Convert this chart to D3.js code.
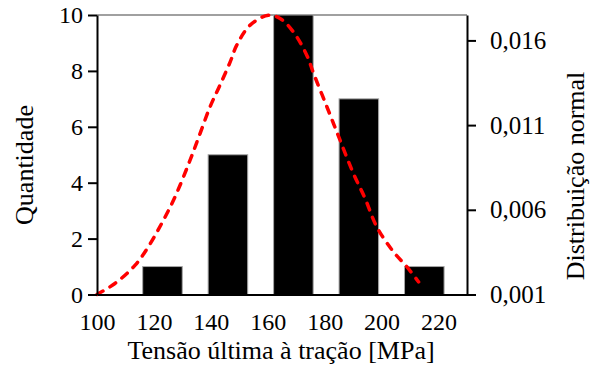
<!DOCTYPE html>
<html>
<head>
<meta charset="utf-8">
<script src="https://cdn.jsdelivr.net/npm/d3@7"></script>
<style>
  body { margin: 0; background: #fff; }
</style>
</head>
<body>
<div id="chart"></div>
<script>
// histogram bins (MPa, bin centre) and counts
const binCentres = [123, 146, 169, 192, 215];
const counts = [1, 5, 10, 7, 1];

// normal distribution curve
const curveX = [100, 106.3, 113.4, 118.0, 122.7, 127.4, 132.7, 136.2, 139.7, 143.2, 146.8, 149.1, 153.8,
  160.2, 164.3, 169.0, 173.7, 176.1, 180.8, 185.4, 190.1, 194.2, 198.3, 204.2, 208.9, 213.0];
const curveY = [0.00100, 0.00165, 0.00273, 0.00381, 0.00519, 0.00676, 0.00893, 0.01050, 0.01207, 0.01336,
  0.01473, 0.01572, 0.01690, 0.01749, 0.01730, 0.01650, 0.01513, 0.01405, 0.01207, 0.01011, 0.00814,
  0.00667, 0.00499, 0.00351, 0.00263, 0.00174];

const xTicks = [100, 120, 140, 160, 180, 200, 220];
const leftTicks = [0, 2, 4, 6, 8, 10];
const rightTicks = [0.001, 0.006, 0.011, 0.016];

const W = 600, H = 367;
const margin = {top: 15, right: 133, bottom: 72.5, left: 97};
const width = W - margin.left - margin.right;
const height = H - margin.top - margin.bottom;
const serif = "'Liberation Serif', 'Times New Roman', serif";

const svg = d3.select('#chart')
    .append('svg')
    .attr('width', W)
    .attr('height', H)
    .style('font-family', serif);

const g = svg.append('g')
    .attr('transform', 'translate(' + margin.left + ',' + margin.top + ')');

const xScale = d3.scaleLinear().domain([100, 230]).range([0, width]);
const yLeft = d3.scaleLinear().domain([0, 10]).range([height, 0]);
const yRight = d3.scaleLinear().domain([0.001, 0.0175]).range([height, 0]);

const barW = xScale(113.9) - xScale(100);

// plot area top border
g.append('line')
    .attr('x1', 0).attr('x2', width)
    .attr('y1', 0).attr('y2', 0)
    .attr('stroke', '#808080')
    .attr('stroke-width', 1.5);

// bars
g.selectAll('.bar')
    .data(counts)
    .enter()
    .append('rect')
    .attr('class', 'bar')
    .attr('x', (d, i) => xScale(binCentres[i]) - barW / 2)
    .attr('y', d => yLeft(d))
    .attr('width', barW)
    .attr('height', d => height - yLeft(d))
    .attr('fill', '#000')
    .attr('stroke', '#a6a6a6')
    .attr('stroke-width', 1);

// dashed normal curve
const pts = curveX.map((x, i) => [x, curveY[i]]);
g.append('path')
    .datum(pts)
    .attr('fill', 'none')
    .attr('stroke', '#ff0000')
    .attr('stroke-width', 3.5)
    .attr('stroke-linecap', 'round')
    .attr('stroke-dasharray', '7,8')
    .attr('d', d3.line()
        .x(d => xScale(d[0]))
        .y(d => yRight(d[1]))
        .curve(d3.curveCatmullRom));

// x axis (no tick marks)
const xAxis = g.append('g')
    .attr('transform', 'translate(0,' + height + ')')
    .call(d3.axisBottom(xScale).tickValues(xTicks).tickSize(0).tickPadding(18).tickSizeOuter(0));
xAxis.select('.domain').attr('stroke', '#000').attr('stroke-width', 2);

// left axis
const lAxis = g.append('g')
    .call(d3.axisLeft(yLeft).tickValues(leftTicks).tickSize(9).tickPadding(5).tickSizeOuter(0));
lAxis.select('.domain').attr('stroke', '#000').attr('stroke-width', 2);
lAxis.selectAll('.tick line').attr('stroke', '#000').attr('stroke-width', 2);

// right axis
const fmt = d => d3.format('.3f')(d).replace('.', ',');
const rAxis = g.append('g')
    .attr('transform', 'translate(' + width + ',0)')
    .call(d3.axisRight(yRight).tickValues(rightTicks).tickFormat(fmt).tickSize(9).tickPadding(14).tickSizeOuter(0));
rAxis.select('.domain').attr('stroke', '#000').attr('stroke-width', 2);
rAxis.selectAll('.tick line').attr('stroke', '#000').attr('stroke-width', 2);

svg.selectAll('.domain').attr('fill', 'none');
[xAxis, lAxis, rAxis].forEach(a => a.attr('font-family', serif).attr('font-size', 24));
svg.selectAll('.tick text').attr('fill', '#000').style('font-family', serif).style('font-size', '24px');
rAxis.selectAll('.tick text').style('font-size', '25px');

// axis titles
function title(t) {
  return svg.append('text')
      .attr('text-anchor', 'middle')
      .style('font-family', serif)
      .style('font-size', '26px')
      .attr('fill', '#000')
      .text(t);
}

title('Tensão última à tração [MPa]')
    .attr('x', 281)
    .attr('y', 358.5);

title('Quantidade')
    .attr('transform', 'translate(33,165) rotate(-90)');

title('Distribuição normal')
    .attr('transform', 'translate(584,176) rotate(-90)');
</script>
</body>
</html>
